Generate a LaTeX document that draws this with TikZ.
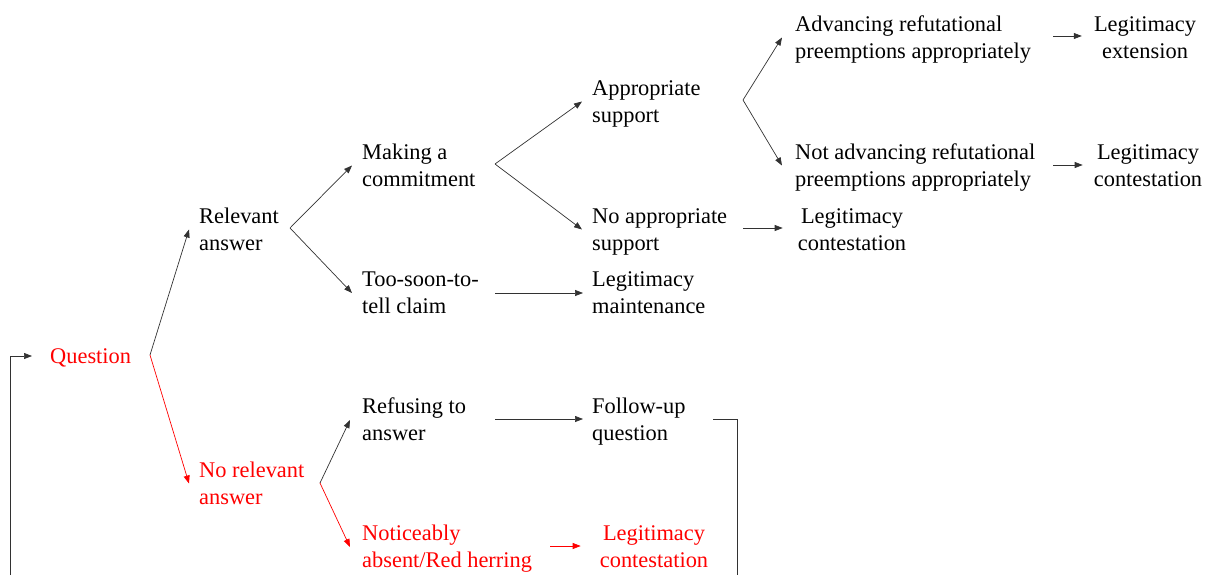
\documentclass[tikz,border=0pt]{standalone}
\usepackage{fontspec}
\setmainfont{Liberation Serif}
\usetikzlibrary{arrows.meta}
\definecolor{linegray}{RGB}{50,50,50}
\definecolor{hired}{RGB}{255,0,0}
\begin{document}
\begin{tikzpicture}[x=1pt,y=-1pt,
  txt/.style={inner sep=0pt,font=\fontsize{22.4}{27}\selectfont},
  % two-line labels: box spans both lines so the anchor sits between them
  lbl/.style={txt,anchor=west,align=left,text height=42.4pt,text depth=1pt},
  clbl/.style={txt,align=center,text height=42.4pt,text depth=1pt},
  onelbl/.style={txt,anchor=west,text height=15pt,text depth=0pt},
  conn/.style={draw=linegray,line width=0.7pt,-{Triangle[length=8pt,width=6pt]}},
  redconn/.style={conn,draw=hired},
  plainline/.style={draw=linegray,line width=0.7pt}]
\useasboundingbox (0,0) rectangle (1206,575);

% outcome labels
\node[onelbl,text=hired] (q) at (50,356) {Question};
\node[lbl] (ra) at (199,229.5) {Relevant\\answer};
\node[lbl,text=hired] (nra) at (199,483.5) {No relevant\\answer};
\node[lbl] (mc) at (362,165.5) {Making a\\commitment};
\node[lbl] (ts) at (362,293) {Too-soon-to-\\tell claim};
\node[lbl] (rf) at (362,420) {Refusing to\\answer};
\node[lbl,text=hired] (na) at (362,547) {Noticeably\\absent/Red herring};
\node[lbl] (as) at (592,101.5) {Appropriate\\support};
\node[lbl] (nas) at (592,229.5) {No appropriate\\support};
\node[lbl] (lm) at (592,293) {Legitimacy\\maintenance};
\node[lbl] (fq) at (592,420) {Follow-up\\question};
\node[clbl,text=hired] (lc3) at (654,547) {Legitimacy\\contestation};
\node[lbl] (adv) at (795,37.5) {Advancing refutational\\preemptions appropriately};
\node[lbl] (nadv) at (795,165.5) {Not advancing refutational\\preemptions appropriately};
\node[clbl] (lc2) at (852,229.5) {Legitimacy\\contestation};
\node[clbl] (le) at (1145,37.5) {Legitimacy\\extension};
\node[clbl] (lc1) at (1148,165.5) {Legitimacy\\contestation};

% fork points
\coordinate (qo) at (150,355);
\coordinate (rao) at (290,228);
\coordinate (nrao) at (320,483);
\coordinate (mco) at (495,164);
\coordinate (tso) at (495,293);
\coordinate (rfo) at (495,419);
\coordinate (nao) at (550,546);
\coordinate (aso) at (743,100);
\coordinate (naso) at (743,228);
\coordinate (advo) at (1053,36);
\coordinate (nadvo) at (1053,165);
\coordinate (fqo) at (713,419);
\coordinate (loopR) at (737,575);
\coordinate (loopL) at (10,575);

% connectors
\draw[conn] (qo) -- ([xshift=-10pt]ra.west);
\draw[redconn] (qo) -- ([xshift=-10pt]nra.west);
\draw[conn] (rao) -- ([xshift=-10pt]mc.west);
\draw[conn] (rao) -- ([xshift=-10pt]ts.west);
\draw[conn] (nrao) -- ([xshift=-12pt]rf.west);
\draw[redconn] (nrao) -- ([xshift=-12pt]na.west);
\draw[conn] (mco) -- ([xshift=-10pt]as.west);
\draw[conn] (mco) -- ([xshift=-10pt]nas.west);
\draw[conn] (tso) -- ([xshift=-9pt]lm.west |- tso);
\draw[conn] (rfo) -- ([xshift=-9pt]fq.west |- rfo);
\draw[redconn] (nao) -- ([xshift=-19pt]lc3.west |- nao);
\draw[conn] (aso) -- ([xshift=-13pt]adv.west);
\draw[conn] (aso) -- ([xshift=-13pt]nadv.west);
\draw[conn] (naso) -- ([xshift=-15pt]lc2.west |- naso);
\draw[conn] (advo) -- ([xshift=-12pt]le.west |- advo);
\draw[conn] (nadvo) -- ([xshift=-11pt]lc1.west |- nadvo);

% feedback loop back to the question
\draw[plainline] (fqo) -| (loopR);
\draw[conn] (loopL) |- ([xshift=-18pt]q.west);
\end{tikzpicture}
\end{document}
